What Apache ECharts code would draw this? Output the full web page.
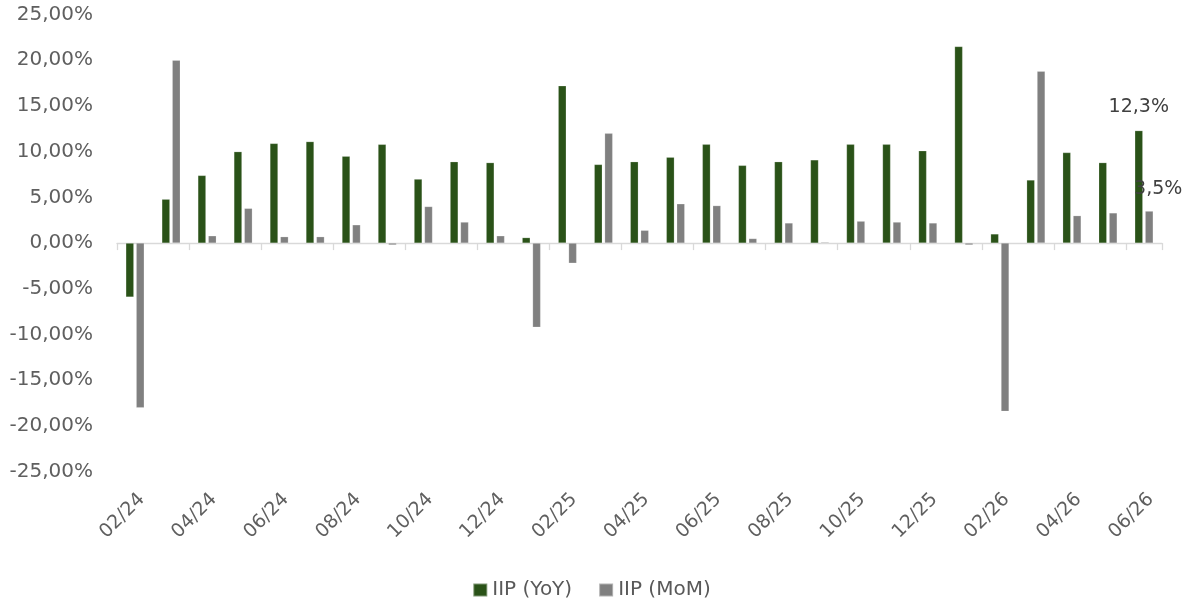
<!DOCTYPE html>
<html>
<head>
<meta charset="utf-8">
<script src="https://cdn.jsdelivr.net/npm/echarts@6/dist/echarts.min.js"></script>
<style>
html,body{margin:0;padding:0;background:#fff;}
#chart{width:1183px;height:604px;}
</style>
</head>
<body>
<div id="chart"></div>
<script>
const categories = ['02/24','03/24','04/24','05/24','06/24','07/24','08/24','09/24','10/24','11/24','12/24','01/25','02/25','03/25','04/25','05/25','06/25','07/25','08/25','09/25','10/25','11/25','12/25','01/26','02/26','03/26','04/26','05/26','06/26'];
const iipYoY = [-5.9, 4.8, 7.4, 10.0, 10.9, 11.1, 9.5, 10.8, 7.0, 8.9, 8.8, 0.6, 17.2, 8.6, 8.9, 9.4, 10.8, 8.5, 8.9, 9.1, 10.8, 10.8, 10.1, 21.5, 1.0, 6.9, 9.9, 8.8, 12.3];
const iipMoM = [-18.0, 20.0, 0.8, 3.8, 0.7, 0.7, 2.0, -0.2, 4.0, 2.3, 0.8, -9.2, -2.2, 12.0, 1.4, 4.3, 4.1, 0.5, 2.2, 0.1, 2.4, 2.3, 2.2, -0.2, -18.4, 18.8, 3.0, 3.3, 3.5];
const seriesNames = ['IIP (YoY)', 'IIP (MoM)'];

const FONT = 'DejaVu Sans';
const fmtPct1 = v => v.toFixed(1).replace('.', ',') + '%';

function withLastLabel(arr, labelOpts) {
  return arr.map((v, i) => i === arr.length - 1
    ? { value: v, label: Object.assign({ show: true, formatter: p => fmtPct1(p.value), fontFamily: FONT, fontSize: 19, color: '#404040' }, labelOpts) }
    : v);
}

const chart = echarts.init(document.getElementById('chart'), null, { renderer: 'canvas' });
chart.setOption({
  animation: false,
  backgroundColor: '#ffffff',
  grid: { left: 117, right: 21, top: 14.5, bottom: 132.3, containLabel: false },
  legend: {
    left: 'center', top: 575,
    itemWidth: 14, itemHeight: 13, itemGap: 26,
    icon: 'rect',
    textStyle: { fontFamily: FONT, fontSize: 20, color: '#595959', padding: [0, 0, 0, 0] },
    data: seriesNames
  },
  xAxis: [
    {
      type: 'category', data: categories, position: 'bottom',
      axisLine: { show: false, onZero: false },
      axisTick: { show: false },
      axisLabel: { interval: 1, rotate: 45, margin: 18, verticalAlign: 'top', fontFamily: FONT, fontSize: 19, color: '#5f5f5f' },
      splitLine: { show: false }
    },
    {
      type: 'category', data: categories, position: 'bottom',
      axisLine: { show: true, onZero: true, lineStyle: { color: '#d9d9d9', width: 1.3 } },
      axisTick: { show: true, interval: 1, length: 7, lineStyle: { color: '#d9d9d9', width: 1.3 } },
      axisLabel: { show: false },
      splitLine: { show: false }
    }
  ],
  yAxis: {
    type: 'value', min: -25, max: 25, interval: 5,
    axisLine: { show: false }, axisTick: { show: false },
    splitLine: { show: false },
    axisLabel: { margin: 24, fontFamily: FONT, fontSize: 20, color: '#5f5f5f', formatter: v => v.toFixed(2).replace('.', ',') + '%' }
  },
  series: [
    {
      name: seriesNames[0], type: 'bar', xAxisIndex: 0,
      barWidth: 8, barGap: '30%',
      itemStyle: { color: '#2a5218', borderColor: 'rgba(255,255,255,0.4)', borderWidth: 0.5 },
      data: withLastLabel(iipYoY, { position: 'top', distance: 14 })
    },
    {
      name: seriesNames[1], type: 'bar', xAxisIndex: 0,
      barWidth: 8, barGap: '30%',
      itemStyle: { color: '#808080', borderColor: 'rgba(255,255,255,0.4)', borderWidth: 0.5 },
      data: withLastLabel(iipMoM, { position: 'top', distance: 13, offset: [9, 0] })
    }
  ]
});
</script>
</body>
</html>
